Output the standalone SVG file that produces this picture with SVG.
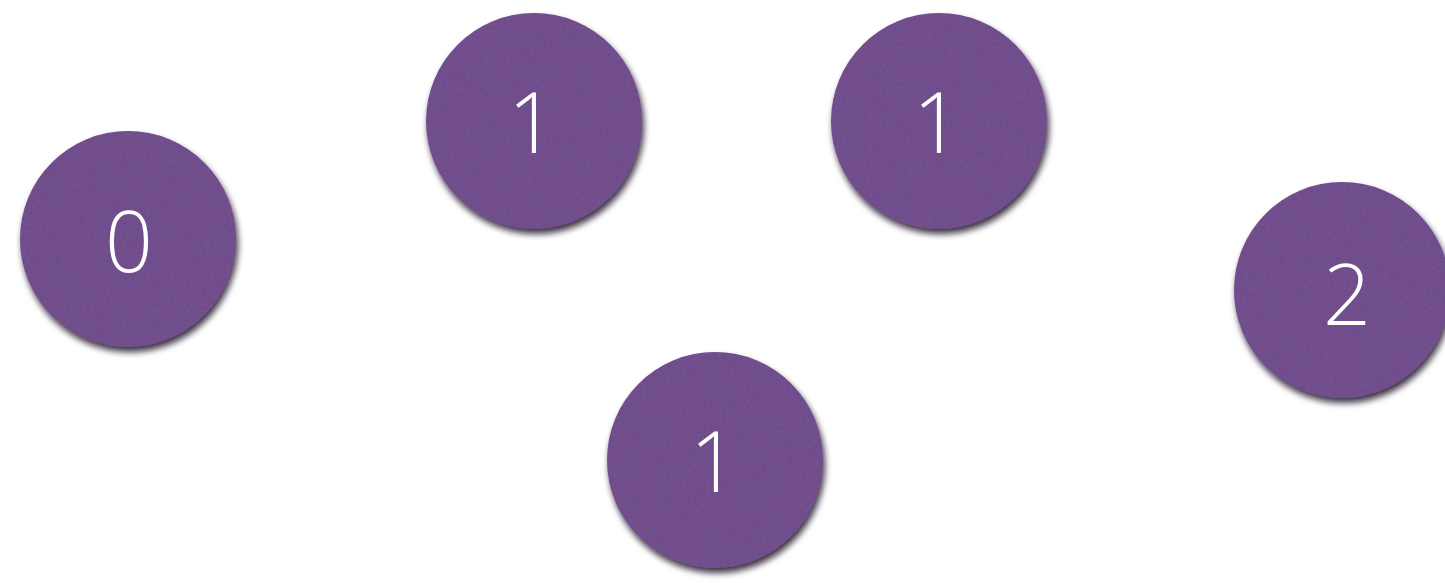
<svg xmlns="http://www.w3.org/2000/svg" width="1445" height="583" viewBox="0 0 1445 583">
<style>
.node circle { fill: #6d4889; filter: url(#sh); }
.node text { fill: #ffffff; font-family: "Open Sans", "Liberation Sans", sans-serif; font-weight: 300; font-size: 84px; text-anchor: middle; }
</style>
<defs>
<filter id="sh" x="-20%" y="-20%" width="145%" height="145%">
<feGaussianBlur in="SourceAlpha" stdDeviation="3"/>
<feOffset dx="2" dy="5" result="b"/>
<feFlood flood-color="#1a0f22" flood-opacity="0.85"/>
<feComposite in2="b" operator="in" result="s"/>
<feTurbulence type="fractalNoise" baseFrequency="0.3" numOctaves="2" seed="3" result="n"/>
<feColorMatrix in="n" type="matrix" values="0 0 0 0 0.42  0 0 0 0 0.28  0 0 0 0 0.55  0 0 0 0.1 0" result="nc"/>
<feComposite in="nc" in2="SourceGraphic" operator="in" result="tex"/>
<feMerge><feMergeNode in="s"/><feMergeNode in="SourceGraphic"/><feMergeNode in="tex"/></feMerge>
</filter>
</defs>
<rect width="1445" height="583" fill="#ffffff"/>
<g id="connectors"></g>
<g id="n0" class="node"><circle cx="128" cy="239" r="108"/><text x="129" y="272">0</text></g>
<g id="n1a" class="node"><circle cx="534" cy="121" r="108"/><text x="532" y="153">1</text></g>
<g id="n1b" class="node"><circle cx="939" cy="121" r="108"/><text x="937" y="153">1</text></g>
<g id="n1c" class="node"><circle cx="715" cy="460" r="108"/><text x="714" y="492">1</text></g>
<g id="n2" class="node"><circle cx="1342" cy="290" r="108"/><text x="1347" y="325">2</text></g>
</svg>
